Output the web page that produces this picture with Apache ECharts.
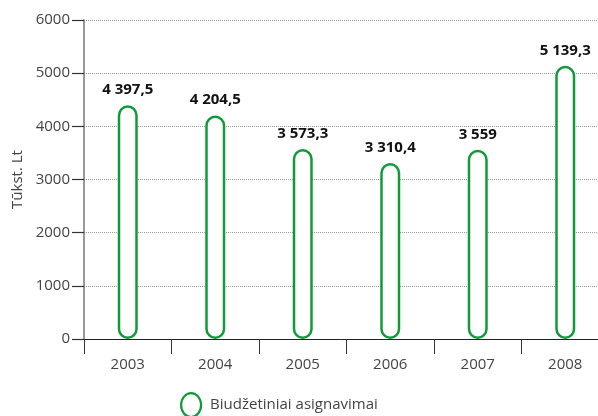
<!DOCTYPE html>
<html>
<head>
<meta charset="utf-8">
<script src="https://cdn.jsdelivr.net/npm/echarts@6/dist/echarts.min.js"></script>
<style>
  html, body { margin: 0; padding: 0; background: #fff; }
  #chart { width: 598px; height: 416px; }
</style>
</head>
<body>
<div id="chart"></div>
<script>
// Budget appropriations per year, thousand litas
const years = ['2003', '2004', '2005', '2006', '2007', '2008'];
const appropriations = [4397.5, 4204.5, 3573.3, 3310.4, 3559, 5139.3];
const seriesName = 'Biudžetiniai asignavimai';
const yAxisTitle = 'Tūkst. Lt';

const GREEN = '#119a3a';
const FONT = '"Open Sans", sans-serif';

// 4397.5 -> "4 397,5"
function formatValue(v) {
  const parts = String(v).split('.');
  const intPart = parts[0].replace(/\B(?=(\d{3})+(?!\d))/g, ' ');
  return parts.length > 1 ? intPart + ',' + parts[1] : intPart;
}

const chart = echarts.init(document.getElementById('chart'), null, { renderer: 'canvas' });

chart.setOption({
  animation: false,
  textStyle: { fontFamily: FONT },
  grid: { left: 84, top: 20, width: 525, height: 319, containLabel: false, outerBoundsMode: 'none' },
  legend: {
    left: 180,
    top: 392,
    padding: 0,
    itemWidth: 20,
    itemHeight: 24,
    itemGap: 10,
    icon: 'path://M10,0 C15.5,0 20,5.4 20,12 C20,18.6 15.5,24 10,24 C4.5,24 0,18.6 0,12 C0,5.4 4.5,0 10,0 Z',
    itemStyle: { color: '#fff', borderColor: GREEN, borderWidth: 2.2 },
    textStyle: { fontSize: 15, color: '#444', fontFamily: FONT, padding: [0, 0, 0, 4] },
    data: [seriesName]
  },
  xAxis: {
    type: 'category',
    data: years,
    boundaryGap: true,
    axisLine: { lineStyle: { color: '#222', width: 1 } },
    axisTick: { show: true, length: 15, lineStyle: { color: '#333', width: 1 } },
    axisLabel: { fontSize: 15, color: '#444', margin: 18, fontFamily: FONT },
    splitLine: { show: false }
  },
  yAxis: {
    type: 'value',
    min: 0,
    max: 6000,
    interval: 1000,
    name: yAxisTitle,
    nameLocation: 'middle',
    nameRotate: 90,
    nameGap: 59,
    nameMoveOverlap: false,
    nameTextStyle: { fontSize: 15, color: '#444', fontFamily: FONT },
    axisLine: { show: true, lineStyle: { color: '#777', width: 1.5 } },
    axisTick: { show: true, inside: false, length: 12, lineStyle: { color: '#333', width: 1.2 } },
    axisLabel: { fontSize: 15, color: '#444', margin: 14, fontFamily: FONT, formatter: v => String(v) },
    splitLine: { show: true, lineStyle: { color: '#9a9a9a', type: [1, 1], width: 1 } }
  },
  series: [{
    name: seriesName,
    type: 'bar',
    data: appropriations,
    barWidth: 20,
    itemStyle: {
      color: '#fff',
      borderColor: GREEN,
      borderWidth: 2.5,
      borderRadius: 10
    },
    label: {
      show: true,
      position: 'top',
      distance: 8,
      fontSize: 15,
      fontWeight: 'bold',
      color: '#111',
      fontFamily: FONT,
      formatter: p => formatValue(p.value)
    }
  }]
});
</script>
</body>
</html>
